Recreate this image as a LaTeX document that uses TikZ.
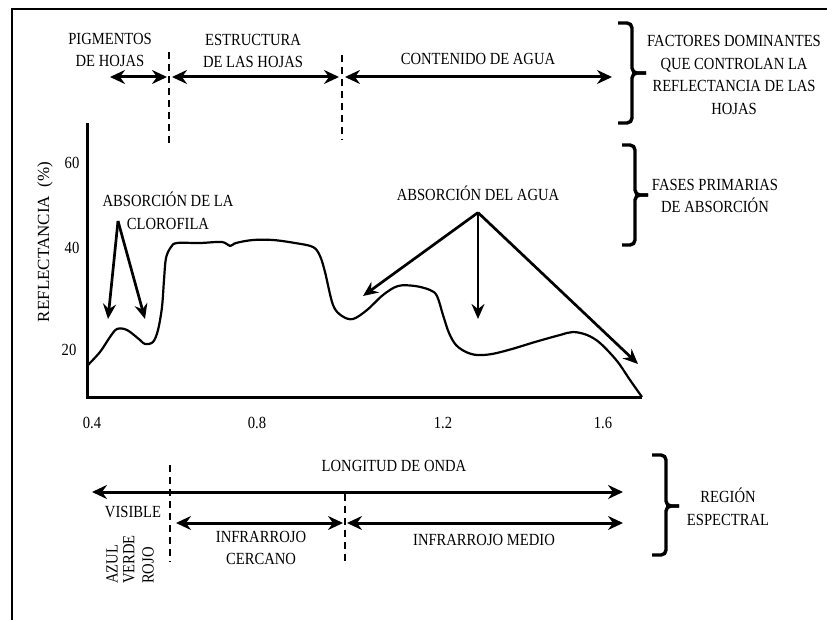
\documentclass[tikz,border=0pt]{standalone}
\usepackage{fontspec}
\setmainfont{Liberation Serif}[FakeStretch=0.86]
\newfontfamily\wideserif{Liberation Serif}
\usetikzlibrary{positioning,calc,arrows.meta}
\tikzstyle{txt} = [inner sep=0pt, align=center, font=\fontsize{17}{22.5}\selectfont]
\tikzstyle{sidetxt} = [txt, rotate=90, anchor=west]
\tikzstyle{twoway} = [line width=3pt, {Stealth[length=15pt,width=14pt,inset=5pt]}-{Stealth[length=15pt,width=14pt,inset=5pt]}]
\tikzstyle{pointer} = [line width=2.7pt, -{Stealth[length=15pt,width=13pt,inset=5pt]}]
\tikzstyle{divider} = [line width=1.6pt, dash pattern=on 7pt off 5pt]
\tikzstyle{bracket} = [line width=3.4pt, rounded corners=5pt]
\tikzstyle{axisline} = [line width=3pt]
\tikzstyle{spectrum} = [line width=2.2pt, line join=round]

\begin{document}
\begin{tikzpicture}[x=1pt,y=-1pt]
		\useasboundingbox (0,0) rectangle (827,620);

		% frame
		\draw[line width=2.2pt] (827,9) -- (12,9) -- (12,620);

		% top dividers
		\coordinate (divA) at (169,52);
		\coordinate (divAend) at (169,143);
		\coordinate (divB) at (342,55);
		\coordinate (divBend) at (342,140);
		\draw[divider] (divA) -- (divAend);
		\draw[divider] (divB) -- (divBend);

		% top spans
		\coordinate (pigL) at (110,77);
		\coordinate (pigR) at (167,77);
		\coordinate (estL) at (172,77);
		\coordinate (estR) at (339,77);
		\coordinate (conL) at (345,77);
		\coordinate (conR) at (612,77);
		\draw[twoway] (pigL) -- (pigR);
		\draw[twoway] (estL) -- (estR);
		\draw[twoway] (conL) -- (conR);
		\node[txt] (pigtxt) at (110,50) {PIGMENTOS\\DE HOJAS};
		\node[txt] (esttxt) at (253,51) {ESTRUCTURA\\DE LAS HOJAS};
		\node[txt] (contxt) at (478,59) {CONTENIDO DE AGUA};

		% brackets on the right
		\draw[bracket] (618,23) -- (632,23) -- (632,73) -- (646,73);
		\draw[bracket] (646,73) -- (632,73) -- (632,123) -- (618,123);
		\node[txt] (factxt) at (734,75) {FACTORES DOMINANTES\\QUE CONTROLAN LA\\REFLECTANCIA DE LAS\\HOJAS};
		\draw[bracket] (622,145) -- (635,145) -- (635,195) -- (648,195);
		\draw[bracket] (648,195) -- (635,195) -- (635,245) -- (622,245);
		\node[txt] (fastxt) at (715,196) {FASES PRIMARIAS\\DE ABSORCI\'ON};

		% axes
		\coordinate (ytop) at (87,123);
		\coordinate (origin) at (87,397);
		\coordinate (xend) at (642,397);
		\draw[axisline] (ytop) -- (origin) -- (xend);
		\node[txt] (y60) at (72,163) {60};
		\node[txt] (y40) at (72,248) {40};
		\node[txt] (y20) at (69,350) {20};
		\node[txt] (x04) at (92,423) {0.4};
		\node[txt] (x08) at (257,423) {0.8};
		\node[txt] (x12) at (443,423) {1.2};
		\node[txt] (x16) at (603,423) {1.6};
		\node[txt, rotate=90, font=\wideserif\fontsize{17}{20}\selectfont] (ylab) at (45,242) {REFLECTANCIA~ (\%)};

		% reflectance curve
		\draw[spectrum] plot[smooth, tension=0.55] coordinates {
			(87,366) (100,352) (110,337) (117,329) (127,330) (140,340) (145,344)
			(153,342) (158,330) (162,307) (164,280) (166,258) (171,247) (177,243)
			(200,243) (222,242) (230,246) (236,243) (253,240) (273,240) (295,243)
			(313,247) (320,256) (325,272) (333,305) (342,316) (353,319) (367,310)
			(383,295) (398,286) (415,286) (430,290) (437,296) (443,315) (449,333)
			(456,345) (466,352) (477,355) (492,354) (512,349) (535,342) (560,335)
			(573,332) (587,335) (600,343) (617,361) (630,380) (642,397)};

		% absorption arrows
		\node[txt] (cloro) at (168,211) {ABSORCI\'ON DE LA\\CLOROFILA};
		\coordinate (clorotop) at (118,221);
		\coordinate (blueband) at (108,319);
		\coordinate (redband) at (145,319);
		\draw[pointer] (clorotop) -- (blueband);
		\draw[pointer] (clorotop) -- (redband);

		\node[txt] (aguatxt) at (478,193) {ABSORCI\'ON DEL AGUA};
		\node[coordinate, below=12pt of aguatxt] (aguatop) {};
		\coordinate (agua1) at (363,296);
		\coordinate (agua2) at (478,319);
		\coordinate (agua3) at (638,364);
		\draw[pointer] (aguatop) -- (agua1);
		\draw[pointer] (aguatop) -- (agua2);
		\draw[pointer] (aguatop) -- (agua3);

		% spectral regions
		\coordinate (divC) at (170,465);
		\coordinate (divCend) at (170,562);
		\coordinate (divD) at (345,494);
		\coordinate (divDend) at (345,562);
		\draw[divider] (divC) -- (divCend);
		\draw[divider] (divD) -- (divDend);

		\coordinate (ondaL) at (92,492);
		\coordinate (ondaR) at (623,492);
		\draw[twoway] (ondaL) -- (ondaR);
		\node[txt] (ondatxt) at (394,466) {LONGITUD DE ONDA};

		\coordinate (nirL) at (176,523);
		\coordinate (nirR) at (343,523);
		\coordinate (mirL) at (347,523);
		\coordinate (mirR) at (623,523);
		\draw[twoway] (nirL) -- (nirR);
		\draw[twoway] (mirL) -- (mirR);

		\node[txt] (vistxt) at (133,512) {VISIBLE};
		\node[txt] (nirtxt) at (261,548) {INFRARROJO\\CERCANO};
		\node[txt] (mirtxt) at (484,540) {INFRARROJO MEDIO};
		\node[sidetxt] (azul) at (112,584) {AZUL};
		\node[sidetxt] (verde) at (129,584) {VERDE};
		\node[sidetxt] (rojo) at (148,584) {ROJO};

		\draw[bracket] (652,455) -- (666,455) -- (666,506) -- (679,506);
		\draw[bracket] (679,506) -- (666,506) -- (666,555) -- (652,555);
		\node[txt] (regtxt) at (728,507) {REGI\'ON\\ESPECTRAL};
\end{tikzpicture}
\end{document}
